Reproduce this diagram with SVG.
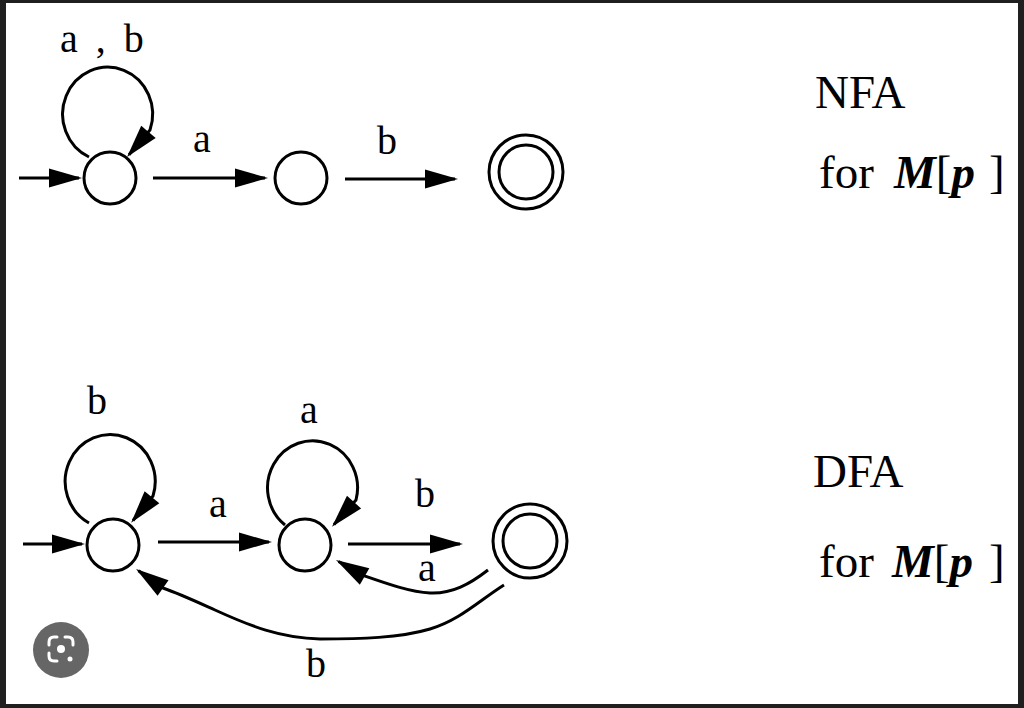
<svg xmlns="http://www.w3.org/2000/svg" width="1024" height="708" viewBox="0 0 1024 708">
<style>
.st{fill:#fff;stroke:#000;stroke-width:3}
.ed{fill:none;stroke:#000;stroke-width:3;marker-end:url(#ah)}
.lb{font-family:"Liberation Serif",serif;font-size:40px;fill:#000}
.tt{font-family:"Liberation Serif",serif;font-size:47px;fill:#000}
.bi{font-weight:bold;font-style:italic}
</style>
<defs>
<marker id="ah" markerUnits="userSpaceOnUse" viewBox="-32 -11 36 22" markerWidth="36" markerHeight="22" refX="0" refY="0" orient="auto">
<path d="M3,0 L-30,-9.5 L-30,9.5 Z" fill="#000"/>
</marker>
</defs>
<rect x="0" y="0" width="1024" height="708" fill="#1f1f1f"/>
<rect x="6" y="3" width="1012" height="701" fill="#fff"/>

<g id="connectors">
<path class="ed" d="M19,178 H79"/>
<path class="ed" d="M89,157 A45 47 0 1 1 150,130 L129,154.7"/>
<path class="ed" d="M153,178 H265"/>
<path class="ed" d="M345,179 H455"/>
<path class="ed" d="M23,544 H82"/>
<path class="ed" d="M89,523 A45 47 0 1 1 153,496 L133,520.5"/>
<path class="ed" d="M158,542 H269"/>
<path class="ed" d="M285,525 A45 47 0 1 1 356,500 L334,524.5"/>
<path class="ed" d="M348,544 H460"/>
<path class="ed" d="M488,570 C470,584 452,594 430,593 C410,592 385,583 362,575 L338.6,561.5"/>
<path class="ed" d="M504,585 C480,600 460,620 430,629 C400,638 360,639 320,639 C280,638 250,626 215,610 C195,601 180,594 163,588 L138.5,570.8"/>
</g>

<g id="edge-labels">
<text class="lb" x="60" y="52" xml:space="preserve" word-spacing="8">a , b</text>
<text class="lb" x="202" y="152" text-anchor="middle">a</text>
<text class="lb" x="387" y="154" text-anchor="middle">b</text>
<text class="lb" x="97" y="414" text-anchor="middle">b</text>
<text class="lb" x="309" y="423" text-anchor="middle">a</text>
<text class="lb" x="218" y="517" text-anchor="middle">a</text>
<text class="lb" x="425" y="507" text-anchor="middle">b</text>
<text class="lb" x="427" y="581" text-anchor="middle">a</text>
<text class="lb" x="316" y="677" text-anchor="middle">b</text>
</g>

<g id="nfa-q0"><circle class="st" cx="110" cy="178" r="26"/></g>
<g id="nfa-q1"><circle class="st" cx="301" cy="178" r="26"/></g>
<g id="nfa-q2"><circle class="st" cx="526" cy="172" r="37"/><circle class="st" cx="526" cy="172" r="27"/></g>

<g id="dfa-q0"><circle class="st" cx="113" cy="545" r="26"/></g>
<g id="dfa-q1"><circle class="st" cx="305" cy="545" r="26"/></g>
<g id="dfa-q2"><circle class="st" cx="530" cy="541" r="37"/><circle class="st" cx="530" cy="541" r="27"/></g>

<g id="nfa-title">
<text class="tt" x="815" y="108">NFA</text>
<text class="tt" y="188"><tspan x="819">for</tspan><tspan x="894" class="bi">M</tspan><tspan>[</tspan><tspan class="bi">p</tspan><tspan x="989">]</tspan></text>
</g>
<g id="dfa-title">
<text class="tt" x="813" y="487">DFA</text>
<text class="tt" y="577"><tspan x="819">for</tspan><tspan x="892" class="bi">M</tspan><tspan>[</tspan><tspan class="bi">p</tspan><tspan x="989">]</tspan></text>
</g>

<g id="lens-icon">
<circle cx="61" cy="650" r="28" fill="#666"/>
<path d="M49,645 V642 Q49,637 54,637 H57 M65,637 H68 Q73,637 73,642 V645 M49,653 V656 Q49,661 54,661 H57" fill="none" stroke="#fff" stroke-width="3" stroke-linecap="round"/>
<circle cx="61" cy="649" r="4" fill="#fff"/>
<circle cx="70" cy="659" r="2.5" fill="#fff"/>
</g>
</svg>
